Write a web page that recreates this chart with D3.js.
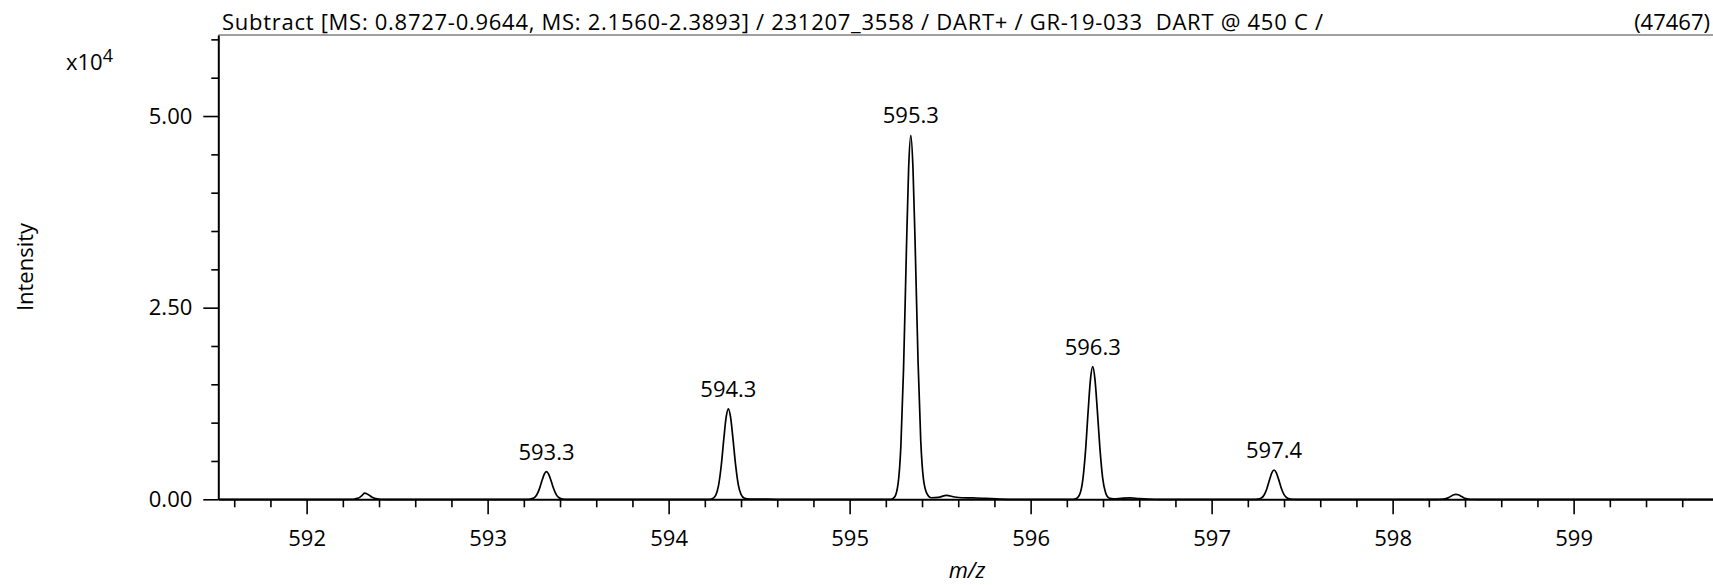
<!DOCTYPE html>
<html>
<head>
<meta charset="utf-8">
<script src="https://cdn.jsdelivr.net/npm/d3@7/dist/d3.min.js"></script>
<style>
  html, body { margin: 0; padding: 0; background: #fff; }
  svg { display: block; }
  text { font-family: "Segoe UI", "Open Sans", sans-serif; fill: #000; }
</style>
</head>
<body>
<svg id="chart" width="1713" height="585"></svg>
<script>
// ---- data ----
const titleText = "Subtract [MS: 0.8727-0.9644, MS: 2.1560-2.3893] / 231207_3558 / DART+ / GR-19-033  DART @ 450 C /";
const maxLabel = "(47467)";

const xTickValues = [592, 593, 594, 595, 596, 597, 598, 599];
const xTickLabels = ["592", "593", "594", "595", "596", "597", "598", "599"];
const yTickValues = [0, 25000, 50000];
const yTickLabels = ["0.00", "2.50", "5.00"];

// profile spectrum: m/z and intensity pairs
const mzValues = [
  591.512, 592.21, 592.25, 592.265, 592.28, 592.295, 592.308, 592.32, 592.332, 592.345, 592.36, 592.375, 592.39, 592.41, 592.45,
  593.215, 593.235, 593.255, 593.27, 593.285, 593.30, 593.313, 593.325, 593.337, 593.35, 593.365, 593.38, 593.395, 593.415, 593.44,
  594.22, 594.24, 594.26, 594.275, 594.29, 594.305, 594.318, 594.33, 594.342, 594.355, 594.37, 594.385, 594.40, 594.42, 594.45, 594.55, 594.60,
  595.228, 595.248, 595.268, 595.283, 595.298, 595.313, 595.326, 595.338, 595.350, 595.363, 595.378, 595.393, 595.408, 595.428, 595.45, 595.49, 595.535, 595.58, 595.62, 595.68, 595.75, 595.83, 595.90,
  596.233, 596.253, 596.273, 596.288, 596.303, 596.318, 596.331, 596.343, 596.355, 596.368, 596.383, 596.398, 596.413, 596.433, 596.46, 596.50, 596.55, 596.60, 596.65, 596.72,
  597.235, 597.255, 597.275, 597.29, 597.305, 597.32, 597.333, 597.345, 597.357, 597.37, 597.385, 597.40, 597.415, 597.435, 597.47,
  598.24, 598.26, 598.28, 598.295, 598.31, 598.325, 598.338, 598.35, 598.362, 598.375, 598.39, 598.405, 598.42, 598.44, 598.48,
  599.77
];
const intensityValues = [
  0, 0, 5, 35, 116, 288, 536, 800, 728, 544, 304, 128, 44, 8, 0,
  0, 22, 158, 522, 1296, 2412, 3276, 3600, 3276, 2448, 1368, 576, 198, 36, 0,
  0, 71, 519, 1711, 4248, 7906, 10738, 11800, 10738, 8024, 4484, 1888, 649, 118, 20, 10, 0,
  0, 285, 2089, 6883, 17088, 31803, 43195, 47467, 43195, 32277, 18037, 7595, 2611, 700, 200, 250, 520, 300, 200, 180, 120, 40, 0,
  0, 104, 761, 2509, 6228, 11591, 15743, 17300, 15743, 11764, 6574, 2768, 952, 173, 60, 120, 180, 100, 40, 0,
  0, 23, 168, 554, 1375, 2559, 3476, 3820, 3476, 2598, 1452, 611, 210, 38, 0,
  0, 4, 28, 94, 234, 436, 592, 650, 592, 442, 247, 104, 36, 7, 0,
  0
];

// peak annotations
const peakLabels = ["593.3", "594.3", "595.3", "596.3", "597.4"];
const peakLabelMz = [593.325, 594.33, 595.338, 596.343, 597.345];
const peakLabelIntensity = [3600, 11800, 47467, 17300, 3820];

(function () {
  // ---- layout ----
  const svg = d3.select("#chart");
  const pLeft = 218.3, pRight = 1713, pTop = 35, pBottom = 499.3;
  const x = d3.scaleLinear().domain([591.512, 599.77]).range([pLeft, pRight]);
  const y = d3.scaleLinear().domain([0, 60570]).range([pBottom, pTop]);
  const fs = 22;
  const ff = "'Segoe UI','Open Sans',sans-serif";

  // top border
  svg.append("line")
    .attr("x1", pLeft).attr("x2", pRight).attr("y1", pTop).attr("y2", pTop)
    .attr("stroke", "#808080").attr("stroke-width", 1.5);

  // title
  svg.append("text").attr("x", 222).attr("y", 30).attr("font-size", fs)
    .style("white-space", "pre")
    .attr("textLength", 1101).attr("lengthAdjust", "spacing")
    .text(titleText);
  svg.append("text").attr("x", 1710).attr("y", 30).attr("font-size", fs)
    .attr("text-anchor", "end").text(maxLabel);

  // x axis minor ticks
  const xMinor = d3.range(591.6, 599.78, 0.2).filter(v => Math.abs(v - Math.round(v)) > 0.01);
  const gxMinor = svg.append("g").attr("transform", `translate(0,${pBottom})`)
    .call(d3.axisBottom(x).tickValues(xMinor).tickSize(8).tickFormat(""));
  gxMinor.select(".domain").remove();

  // x axis major
  const gx = svg.append("g").attr("transform", `translate(0,${pBottom})`)
    .call(d3.axisBottom(x).tickValues(xTickValues).tickSize(15).tickSizeOuter(0)
      .tickFormat((d, i) => xTickLabels[i]).tickPadding(16));
  gx.selectAll("text").attr("font-size", fs).attr("font-family", ff);

  // y axis minor
  const yMinor = d3.range(5000, 60001, 5000).filter(v => v % 25000 !== 0);
  const gyMinor = svg.append("g").attr("transform", `translate(${pLeft},0)`)
    .call(d3.axisLeft(y).tickValues(yMinor).tickSize(7).tickFormat(""));
  gyMinor.select(".domain").remove();

  // y axis major
  const gy = svg.append("g").attr("transform", `translate(${pLeft},0)`)
    .call(d3.axisLeft(y).tickValues(yTickValues).tickSize(15).tickSizeOuter(0)
      .tickFormat((d, i) => yTickLabels[i]).tickPadding(11));
  gy.selectAll("text").attr("font-size", fs).attr("font-family", ff);

  svg.selectAll(".domain").attr("stroke", "#000").attr("stroke-width", 2);
  svg.selectAll(".tick line").attr("stroke", "#000").attr("stroke-width", 1.6);

  // spectrum trace
  const pts = mzValues.map((m, i) => [m, intensityValues[i]]);
  const line = d3.line().x(d => x(d[0])).y(d => y(d[1])).curve(d3.curveMonotoneX);
  svg.append("path").datum(pts)
    .attr("d", line)
    .attr("fill", "none").attr("stroke", "#000").attr("stroke-width", 1.7)
    .attr("stroke-linejoin", "round");

  // peak labels
  svg.append("g").selectAll("text").data(peakLabels).join("text")
    .attr("x", (d, i) => x(peakLabelMz[i]))
    .attr("y", (d, i) => y(peakLabelIntensity[i]) - 12)
    .attr("text-anchor", "middle").attr("font-size", fs)
    .text(d => d);

  // axis titles
  svg.append("text").attr("transform", "translate(33,267) rotate(-90)")
    .attr("text-anchor", "middle").attr("font-size", fs).text("Intensity");
  svg.append("text").attr("x", 967).attr("y", 578)
    .attr("text-anchor", "middle").attr("font-size", fs).attr("font-style", "italic").text("m/z");

  // exponent
  const ex = svg.append("text").attr("x", 66).attr("y", 70).attr("font-size", fs);
  ex.append("tspan").text("x10");
  ex.append("tspan").attr("dy", -8).attr("font-size", 18).text("4");
})();
</script>
</body>
</html>
